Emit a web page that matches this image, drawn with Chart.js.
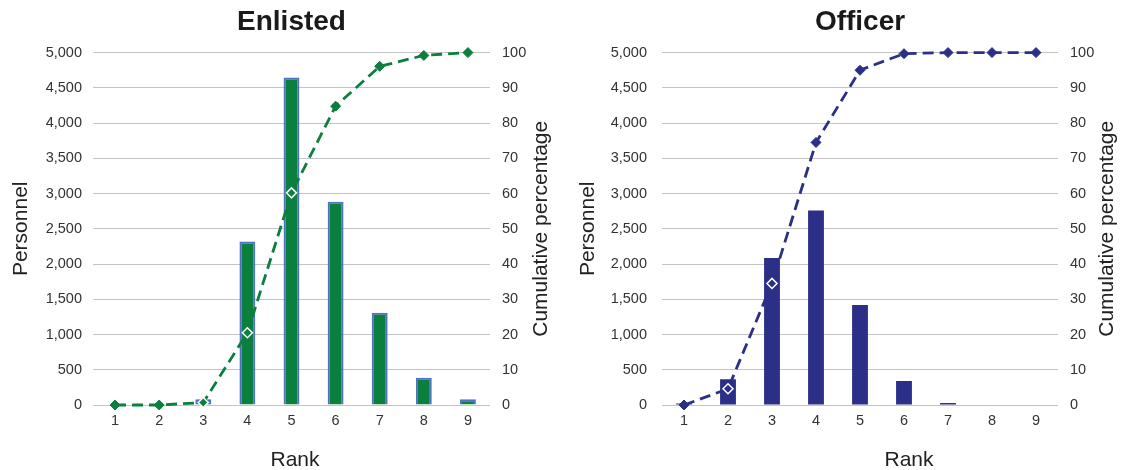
<!DOCTYPE html>
<html>
<head>
<meta charset="utf-8">
<script src="https://cdn.jsdelivr.net/npm/chart.js@4"></script>
<style>
    html, body { margin: 0; padding: 0; background: #fff; }
    #wrap { position: relative; width: 1123px; height: 470px; }
    .box { position: absolute; top: 0; height: 470px; }
</style>
</head>
<body>
<div id="wrap">
    <div class="box" style="left:0;width:561px"><canvas id="enlisted" width="561" height="470"></canvas></div>
    <div class="box" style="left:561px;width:562px"><canvas id="officer" width="562" height="470"></canvas></div>
</div>
<script>
const ranks = ['1', '2', '3', '4', '5', '6', '7', '8', '9'];

const enlistedPersonnel = [0, 0, 80, 2320, 4645, 2885, 1310, 385, 80];
const enlistedCumulative = [0, 0, 0.7, 20.5, 60.2, 84.8, 96.1, 99.2, 100];

const officerPersonnel = [20, 365, 2085, 2760, 1420, 340, 30, 0, 0];
const officerCumulative = [0, 4.6, 34.5, 74.5, 95, 99.7, 100, 100, 100];

const FONT = '"Liberation Sans", Arial, Helvetica, sans-serif';
Chart.defaults.font.family = FONT;
Chart.defaults.color = '#333';

// draws the right axis title (bottom-to-top) and the x axis title
const sideTitles = {
    id: 'sideTitles',
    afterDraw(chart, args, opts) {
        const { ctx, chartArea } = chart;
        ctx.save();
        ctx.font = '21px ' + FONT;
        ctx.fillStyle = '#222';
        ctx.textAlign = 'center';
        ctx.textBaseline = 'middle';
        ctx.fillText('Rank', opts.rankX, opts.rankY);
        ctx.translate(opts.rightX, (chartArea.top + chartArea.bottom) / 2);
        ctx.rotate(-Math.PI / 2);
        ctx.fillText('Cumulative percentage', 0, 0);
        ctx.restore();
    }
};

function buildChart(id, title, personnel, cumulative, look) {
    // a marker sitting inside its bar is drawn with a white outline
    const insideBar = (i) => personnel[i] > cumulative[i] * 50 + 40;

    return new Chart(document.getElementById(id), {
        data: {
            labels: ranks,
            datasets: [
                {
                    type: 'line',
                    label: 'Cumulative percentage',
                    data: cumulative,
                    yAxisID: 'y1',
                    order: 0,
                    borderColor: look.line,
                    borderWidth: 2.8,
                    borderDash: [11, 6],
                    tension: 0,
                    fill: false,
                    clip: false,
                    pointStyle: 'rectRot',
                    pointRadius: 5,
                    pointBackgroundColor: look.line,
                    pointBorderColor: ctx => insideBar(ctx.dataIndex) ? '#ffffff' : look.line,
                    pointBorderWidth: ctx => insideBar(ctx.dataIndex) ? 1.5 : 1
                },
                {
                    type: 'bar',
                    label: 'Personnel',
                    data: personnel,
                    yAxisID: 'y',
                    order: 1,
                    backgroundColor: look.bar,
                    borderColor: look.barBorder,
                    borderWidth: look.barBorderWidth,
                    barPercentage: 0.36,
                    categoryPercentage: 1
                }
            ]
        },
        options: {
            responsive: false,
            animation: false,
            layout: { padding: 0 },
            plugins: {
                legend: { display: false },
                tooltip: { enabled: false },
                title: {
                    display: true,
                    text: title,
                    fullSize: false,
                    color: '#1a1a1a',
                    font: { size: 28, weight: 'bold' },
                    padding: { top: 5, bottom: 14 }
                },
                sideTitles: look.titles
            },
            scales: {
                x: {
                    grid: { display: false, drawTicks: false },
                    border: { display: false },
                    ticks: { padding: 7, font: { size: 14.5 } },
                    afterFit: s => { s.height = 65; }
                },
                y: {
                    position: 'left',
                    min: 0,
                    max: 5000,
                    ticks: { stepSize: 500, padding: look.leftPad, font: { size: 14.5 } },
                    grid: { color: '#c4c4c4', drawTicks: false },
                    border: { display: false },
                    title: {
                        display: true,
                        text: 'Personnel',
                        color: '#222',
                        font: { size: 21 },
                        padding: { top: look.titlePad }
                    },
                    afterFit: s => { s.width = look.leftWidth; }
                },
                y1: {
                    position: 'right',
                    min: 0,
                    max: 100,
                    ticks: { stepSize: 10, padding: 12, font: { size: 14.5 } },
                    grid: { display: false, drawTicks: false },
                    border: { display: false },
                    afterFit: s => { s.width = look.rightWidth; }
                }
            }
        },
        plugins: [sideTitles]
    });
}

buildChart('enlisted', 'Enlisted', enlistedPersonnel, enlistedCumulative, {
    line: '#0b7f3d',
    bar: '#0b7f3d',
    barBorder: '#4d72c2',
    barBorderWidth: 2,
    leftWidth: 93,
    rightWidth: 71,
    leftPad: 11,
    titlePad: 8.4,
    titles: { rankX: 295, rankY: 460, rightX: 541 }
});

buildChart('officer', 'Officer', officerPersonnel, officerCumulative, {
    line: '#2b2f87',
    bar: '#2b2f87',
    barBorder: '#2b2f87',
    barBorderWidth: 0,
    leftWidth: 101,
    rightWidth: 65,
    leftPad: 15,
    titlePad: 14.4,
    titles: { rankX: 348, rankY: 460, rightX: 546 }
});
</script>
</body>
</html>
